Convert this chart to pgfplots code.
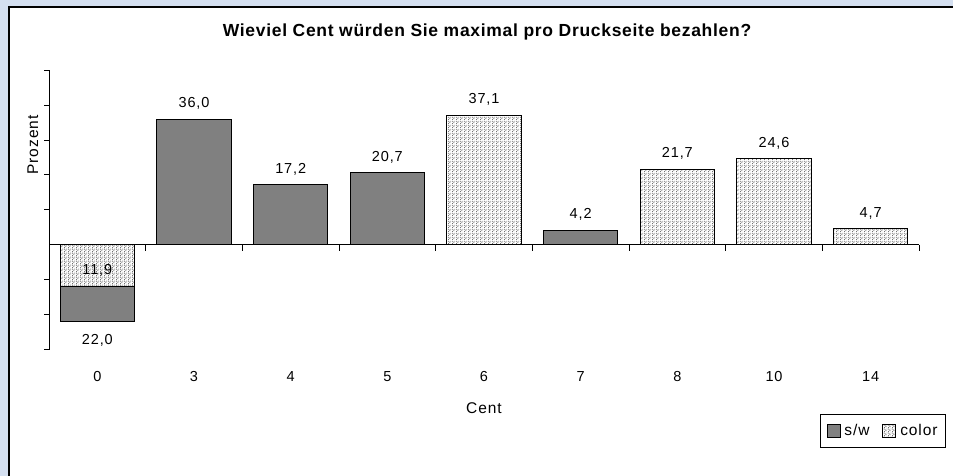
\documentclass[border=0pt]{standalone}
\usepackage{pgfplots}
\pgfplotsset{compat=1.18}
\usepackage{pgfplotstable}
\usepackage{fontspec}
\setmainfont{Liberation Sans}
\newfontfamily\titlefont[LetterSpace=4]{Liberation Sans}
\newfontfamily\widefont[LetterSpace=6]{Liberation Sans}
\usetikzlibrary{patterns}
\definecolor{bgblue}{RGB}{212,223,240}
\definecolor{swgray}{RGB}{128,128,128}
\pgfdeclarepatternformonly{stipple}{\pgfpointorigin}{\pgfpoint{4pt}{4pt}}{\pgfpoint{4pt}{4pt}}{%
  \pgfpathrectangle{\pgfpoint{0pt}{0pt}}{\pgfpoint{1pt}{1pt}}%
  \pgfpathrectangle{\pgfpoint{2pt}{1pt}}{\pgfpoint{1pt}{1pt}}%
  \pgfpathrectangle{\pgfpoint{1pt}{2pt}}{\pgfpoint{1pt}{1pt}}%
  \pgfpathrectangle{\pgfpoint{3pt}{3pt}}{\pgfpoint{1pt}{1pt}}%
  \pgfpathrectangle{\pgfpoint{0pt}{3pt}}{\pgfpoint{1pt}{1pt}}%
  \pgfusepath{fill}%
}

\pgfplotstableread{
x y lab
1 36.0 36.0
2 17.2 17.2
3 20.7 20.7
5 4.2 4.2
}\sw
\pgfplotstableread{
x y lab
0 -22.0 22.0
}\swneg
\pgfplotstableread{
x y lab
4 37.1 37.1
6 21.7 21.7
7 24.6 24.6
8 4.7 4.7
}\colpos
\pgfplotstableread{
x y lab
0 -11.9 11.9
}\colneg

\begin{document}
\begin{tikzpicture}[x=1pt,y=1pt]
\useasboundingbox (0,0) rectangle (953,476);
\fill[bgblue] (0,0) rectangle (953,476);
\fill[white] (9,0) rectangle (953,469);
\draw[line width=2pt] (9,0) -- (9,469) -- (953,469);
\begin{axis}[
  at={(49pt,126pt)}, anchor=south west,
  scale only axis, width=870pt, height=280pt,
  xmin=-0.5, xmax=8.5, ymin=-30, ymax=50,
  axis x line*=bottom, axis y line*=left,
  x axis line style={draw=none},
  y axis line style={-, black, line width=1pt},
  xtick={0,...,8},
  xticklabels={0,3,4,5,6,7,8,10,14},
  xtick style={draw=none},
  ytick={-30,-20,-10,10,20,30,40,50},
  yticklabels={},
  ytick style={black, line width=1pt},
  tick align=outside, major tick length=5pt,
  /pgf/number format/assume math mode=true,
  xticklabel style={font=\widefont\fontsize{14.5}{17}\selectfont, anchor=base, inner sep=0pt, yshift=-27pt},
  xlabel={Cent},
  xlabel style={font=\widefont\fontsize{15.5}{18}\selectfont, at={(axis description cs:0.5,0)}, anchor=base, inner sep=0pt, yshift=-64pt},
  ylabel={Prozent},
  ylabel style={font=\widefont\fontsize{15.5}{18}\selectfont, at={(axis description cs:-0.01264,0.732)}, anchor=base, inner sep=0pt, rotate=0},
  title={Wieviel Cent würden Sie maximal pro Druckseite bezahlen?},
  title style={font=\titlefont\bfseries\fontsize{17.5}{20}\selectfont, at={(axis description cs:0.5,1)}, anchor=base, inner sep=0pt, yshift=28pt, xshift=3pt},
  barstyle/.style={ybar, bar width=0.766, bar shift=0pt, draw=black, line width=1pt},
  colstyle/.style={barstyle, preaction={fill=white}, pattern=stipple, pattern color=black!55},
  labstyle/.style={point meta=explicit, nodes near coords={\pgfmathprintnumber[fixed, fixed zerofill, precision=1, use comma, assume math mode=true]{\pgfplotspointmeta}},
     every node near coord/.append style={font=\widefont\fontsize{14.5}{17}\selectfont, inner ysep=9pt, inner xsep=0pt, black}},
  legend style={at={(axis description cs:1.031,-0.2286)}, anchor=north east, draw=black, line width=0.8pt,
     font=\widefont\fontsize{15.5}{18}\selectfont, inner xsep=6pt, inner ysep=8pt,
     /tikz/every even column/.append style={column sep=11pt},
     /tikz/every odd column/.append style={column sep=2pt}},
  legend columns=-1,
  legend image code/.code={\draw[#1, line width=0.8pt] (0pt,-6.5pt) rectangle (13pt,6.5pt);},
  clip=false,
]
\addplot[barstyle, fill=swgray, labstyle] table[x=x, y=y, meta=lab] {\sw};
\addlegendentry{s/w}
\addplot[barstyle, fill=swgray, forget plot] table[x=x, y=y] {\swneg};
\addplot[colstyle, labstyle] table[x=x, y=y, meta=lab] {\colpos};
\addlegendentry{color}
\addplot[colstyle, forget plot] table[x=x, y=y] {\colneg};
\addplot[draw=none, mark=none, forget plot, labstyle, every node near coord/.append style={anchor=north, inner ysep=0pt, yshift=-12pt}] table[x=x, y=y, meta=lab] {\swneg};
\addplot[draw=none, mark=none, forget plot, labstyle, every node near coord/.append style={anchor=center, inner ysep=0pt, yshift=16.6pt}] table[x=x, y=y, meta=lab] {\colneg};
\draw[black, line width=1pt] (axis cs:-0.5,0) -- (axis cs:8.5,0);
\pgfplotsinvokeforeach{0.5,1.5,2.5,3.5,4.5,5.5,6.5,7.5,8.5}{
  \draw[black, line width=1pt] (axis cs:#1,0) -- ([yshift=-6pt]axis cs:#1,0);
}
\end{axis}
\end{tikzpicture}
\end{document}
